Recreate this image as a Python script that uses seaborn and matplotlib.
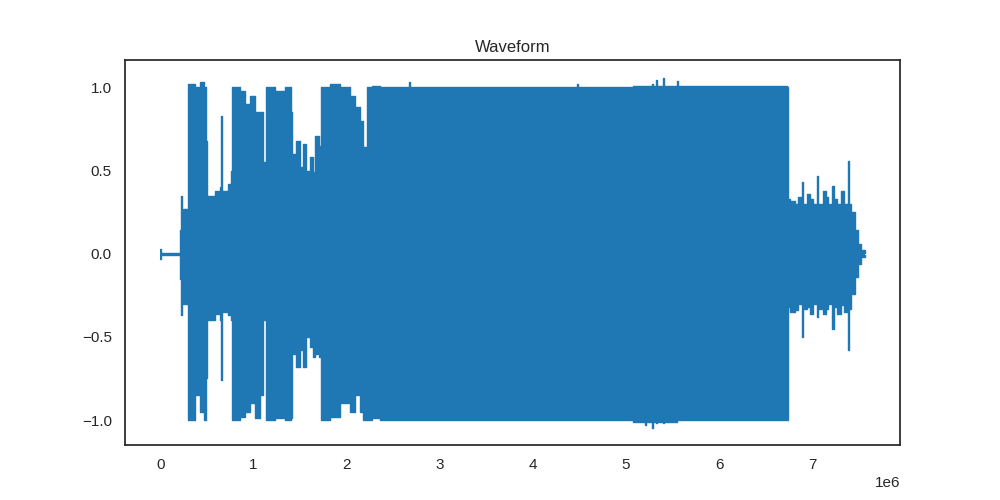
import numpy as np
import pandas as pd
import matplotlib
matplotlib.use("Agg")
import matplotlib.pyplot as plt
import seaborn as sns

# waveform envelope (sample index in millions, amplitude)
sample_m = [
    0.000, 0.010, 0.204, 0.209, 0.220, 0.231, 0.247, 0.290, 0.301, 0.376,
    0.429, 0.472, 0.489, 0.505, 0.591, 0.644, 0.652, 0.661, 0.730, 0.762,
    0.773, 0.859, 0.913, 0.966, 1.020, 1.074, 1.106, 1.127, 1.138, 1.235,
    1.342, 1.406, 1.417, 1.460, 1.503, 1.535, 1.568, 1.610, 1.643, 1.664,
    1.707, 1.729, 1.825, 1.933, 2.040, 2.094, 2.147, 2.179, 2.222, 2.276,
    2.362, 2.673, 2.684, 4.477, 4.488, 5.078, 5.207, 5.218, 5.282, 5.293,
    5.325, 5.336, 5.400, 5.411, 5.551, 5.562, 6.732, 6.737, 6.764, 6.818,
    6.850, 6.890, 6.904, 6.947, 6.979, 7.011, 7.051, 7.065, 7.115, 7.151,
    7.172, 7.212, 7.236, 7.269, 7.312, 7.344, 7.384, 7.398, 7.419, 7.462,
    7.494, 7.526, 7.565,
]
upper = [
    0.03, 0.005, 0.005, 0.14, 0.35, 0.20, 0.27, 0.27, 1.02, 1.00,
    1.03, 1.00, 0.68, 0.35, 0.38, 0.40, 0.83, 0.38, 0.42, 0.50,
    1.00, 0.98, 0.90, 0.95, 0.85, 0.85, 0.55, 0.35, 1.00, 0.98,
    1.00, 0.85, 0.60, 0.68, 0.52, 0.66, 0.50, 0.58, 0.49, 0.71,
    0.65, 1.00, 1.02, 1.00, 0.95, 0.88, 0.80, 0.64, 1.00, 1.01,
    1.00, 1.03, 1.00, 1.02, 1.00, 1.01, 1.01, 1.01, 1.02, 1.01,
    1.045, 1.01, 1.06, 1.01, 1.04, 1.01, 1.00, 0.33, 0.32, 0.30,
    0.34, 0.43, 0.30, 0.36, 0.33, 0.30, 0.47, 0.30, 0.38, 0.34,
    0.30, 0.41, 0.33, 0.30, 0.38, 0.30, 0.56, 0.30, 0.25, 0.14,
    0.06, 0.02, 0.005,
]
lower = [
    -0.03, -0.005, -0.005, -0.15, -0.37, -0.25, -0.30, -0.30, -1.00, -0.85,
    -0.95, -1.00, -0.75, -0.40, -0.36, -0.40, -0.76, -0.35, -0.37, -0.40,
    -1.00, -0.98, -0.95, -0.90, -0.99, -0.85, -0.40, -0.37, -1.00, -0.99,
    -1.00, -0.99, -0.60, -0.68, -0.58, -0.68, -0.50, -0.56, -0.62, -0.60,
    -0.62, -1.00, -0.98, -0.90, -0.95, -0.85, -0.95, -1.00, -1.00, -0.99,
    -1.00, -1.00, -1.00, -1.00, -1.00, -1.01, -1.03, -1.01, -1.045, -1.01,
    -1.02, -1.01, -1.02, -1.01, -1.00, -1.00, -1.00, -0.32, -0.35, -0.34,
    -0.30, -0.50, -0.33, -0.32, -0.36, -0.30, -0.38, -0.33, -0.36, -0.33,
    -0.30, -0.45, -0.32, -0.36, -0.31, -0.35, -0.58, -0.33, -0.24, -0.14,
    -0.06, -0.02, -0.005,
]

sns.set_theme(style="white")
plt.rcParams['font.family'] = ['Liberation Sans', 'DejaVu Sans']

x = np.array(sample_m) * 1e6
df = pd.DataFrame({'sample': np.concatenate([x, x]),
                   'amp': np.concatenate([upper, lower]),
                   'edge': ['upper'] * len(x) + ['lower'] * len(x)})

fig, ax = plt.subplots(figsize=(10, 5))
ax.fill_between(x, lower, upper, step='post', color='#1f77b4', lw=0)
sns.lineplot(data=df, x='sample', y='amp', units='edge', estimator=None,
             sort=False, color='#1f77b4', lw=1.0, drawstyle='steps-post', ax=ax)
ax.set_title('Waveform')
ax.set_xlabel('')
ax.set_ylabel('')
fig.savefig('out.png', dpi=100)
